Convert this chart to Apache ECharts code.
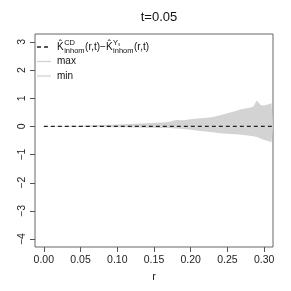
<!DOCTYPE html>
<html><head><meta charset="utf-8">
<script src="https://cdn.jsdelivr.net/npm/echarts@6/dist/echarts.min.js"></script>
<style>html,body{margin:0;padding:0;background:#fff}#c{width:291px;height:291px}</style>
</head><body><div id="c"></div>
<script>
// ---- data ----
const rVals  = [0, 0.01, 0.02, 0.03, 0.04, 0.05, 0.06, 0.07, 0.08, 0.09, 0.10, 0.11, 0.12, 0.13, 0.14, 0.15, 0.16, 0.17, 0.175, 0.18, 0.19, 0.20, 0.21, 0.22, 0.23, 0.24, 0.25, 0.26, 0.27, 0.28, 0.285, 0.29, 0.295, 0.30, 0.305, 0.31, 0.312];
const maxVals = [0, 0.005, 0.01, 0.015, 0.02, 0.025, 0.03, 0.04, 0.05, 0.06, 0.07, 0.08, 0.09, 0.10, 0.11, 0.12, 0.14, 0.16, 0.19, 0.23, 0.22, 0.25, 0.28, 0.30, 0.33, 0.40, 0.47, 0.54, 0.62, 0.66, 0.70, 0.92, 0.76, 0.74, 0.78, 0.82, 0.84];
const minVals = [0, -0.005, -0.01, -0.012, -0.015, -0.017, -0.02, -0.022, -0.025, -0.027, -0.03, -0.034, -0.038, -0.042, -0.046, -0.05, -0.055, -0.06, -0.065, -0.07, -0.09, -0.12, -0.15, -0.18, -0.21, -0.24, -0.26, -0.28, -0.30, -0.33, -0.35, -0.38, -0.43, -0.48, -0.52, -0.56, -0.58];
const diffVals = [0, 0, 0, 0, 0, 0, 0, 0, 0, 0, 0, 0, 0, 0, 0, 0, 0, 0, 0, 0, 0, 0, 0, 0, 0, 0, 0, 0, 0, 0, 0, 0, 0, 0, 0, 0, 0];
const xTicks = [0, 0.05, 0.10, 0.15, 0.20, 0.25, 0.30];
const yTicks = [-4, -3, -2, -1, 0, 1, 2, 3];
const titleText = 't=0.05';
const xName = 'r';

// ---- chart ----
const FONT = "'Liberation Sans', Arial, sans-serif";
const BAND = '#d3d3d3';
const pairs = (ys) => rVals.map((x, i) => [x, ys[i]]);
const chart = echarts.init(document.getElementById('c'), null, {renderer: 'canvas'});

const mctx = document.createElement('canvas').getContext('2d');
function tw(s, size) { mctx.font = size + 'px ' + FONT; return mctx.measureText(s).width; }

const lg = [];
const lx0 = 57, ly = 47, big = 10, small = 7.5;
let cx = lx0;
function piece(txt, size, dy) {
  lg.push({type: 'text', x: cx, y: ly + dy, style: {text: txt, font: size + 'px ' + FONT, fill: '#111', textVerticalAlign: 'middle'}, silent: true});
  return tw(txt, size);
}
function kTerm(supTxt) {
  const w = piece('K\u0302', big, 0);
  cx += w + 0.5;
  const ws = piece(supTxt, small, -4);
  const wi = piece('inhom', small, 3.5);
  cx += Math.max(ws, wi) + 0.5;
}
kTerm('CD');
cx += piece('(r,t)\u2212', big, 0);
kTerm('Y\u209b');
cx += piece('(r,t)', big, 0);

lg.push({type: 'line', shape: {x1: 37, y1: ly, x2: 51, y2: ly}, style: {stroke: '#222', lineWidth: 1.3, lineDash: [4, 3]}, silent: true});
const rows = ['max', 'min'];
rows.forEach((t, i) => {
  const y = ly + 14.5 * (i + 1);
  lg.push({type: 'line', shape: {x1: 37, y1: y, x2: 51, y2: y}, style: {stroke: BAND, lineWidth: 1.3}, silent: true});
  lg.push({type: 'text', x: lx0, y: y, style: {text: t, font: big + 'px ' + FONT, fill: '#111', textVerticalAlign: 'middle'}, silent: true});
});

chart.setOption({
  animation: false,
  backgroundColor: '#fff',
  title: {text: titleText, left: 154, top: 6, textAlign: 'center',
          textStyle: {fontFamily: FONT, fontSize: 13, fontWeight: 'normal', color: '#111'}},
  grid: {left: 35, right: 18, top: 34, bottom: 44, show: true, borderColor: '#666', borderWidth: 1, backgroundColor: 'transparent'},
  xAxis: {
    type: 'value', min: -0.012, max: 0.312,
    axisLine: {show: false, onZero: false}, splitLine: {show: false},
    axisTick: {show: true, customValues: xTicks, length: 5, lineStyle: {color: '#555'}},
    axisLabel: {customValues: xTicks, formatter: v => v.toFixed(2), fontFamily: FONT, fontSize: 10.5, color: '#222', margin: 8},
    name: xName, nameLocation: 'middle', nameGap: 24,
    nameTextStyle: {fontFamily: FONT, fontSize: 11, color: '#222'}
  },
  yAxis: {
    type: 'value', min: -4.28, max: 3.28,
    axisLine: {show: false, onZero: false}, splitLine: {show: false},
    axisTick: {show: true, customValues: yTicks, length: 5, lineStyle: {color: '#555'}},
    axisLabel: {customValues: yTicks, rotate: 90, fontFamily: FONT, fontSize: 10.5, color: '#222', margin: 7,
                formatter: v => (v < 0 ? '\u2212' + Math.abs(v) : String(v))}
  },
  series: [
    {type: 'line', name: 'max', data: pairs(maxVals), symbol: 'none', lineStyle: {width: 0},
     areaStyle: {color: BAND, opacity: 1}, z: 1, silent: true},
    {type: 'line', name: 'min', data: pairs(minVals), symbol: 'none', lineStyle: {width: 0},
     areaStyle: {color: BAND, opacity: 1}, z: 1, silent: true},
    {type: 'line', name: 'diff', data: pairs(diffVals), symbol: 'none',
     lineStyle: {color: '#222', width: 1.3, type: [4, 3]}, z: 3, silent: true}
  ],
  graphic: lg
});
</script></body></html>
